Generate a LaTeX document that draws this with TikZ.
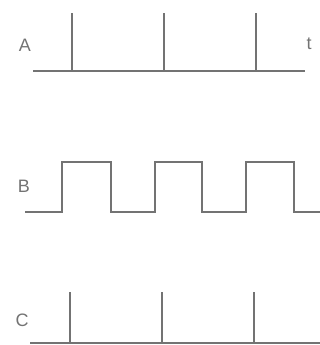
\documentclass[tikz,border=0pt]{standalone}
\usepackage{fontspec}
\setmainfont{Liberation Sans}
\definecolor{ink}{RGB}{115,115,115}
\begin{document}
\begin{tikzpicture}[x=1pt,y=-1pt,
  wave/.style={draw=ink,line width=1.4pt,line join=miter},
  lbl/.style={text=ink,font=\fontsize{18}{21}\selectfont,inner sep=0pt}]
\useasboundingbox (0,0) rectangle (320,345);
% A
\node[lbl] (la) at (25,45) {A};
\node[lbl] (lt) at (309,44) {t};
\draw[wave] (33,71) -- (305,71);
\foreach \x in {72,164,256} \draw[wave] (\x,71) -- (\x,13);
% B
\node[lbl] (lb) at (24,186) {B};
\draw[wave] (25,212) -- (62,212) -- (62,162) -- (111,162) -- (111,212)
  -- (155,212) -- (155,162) -- (202,162) -- (202,212)
  -- (246,212) -- (246,162) -- (294,162) -- (294,212) -- (320,212);
% C
\node[lbl] (lc) at (22,320) {C};
\draw[wave] (30,343) -- (320,343);
\foreach \x in {70,162,254} \draw[wave] (\x,343) -- (\x,292);
\end{tikzpicture}
\end{document}
